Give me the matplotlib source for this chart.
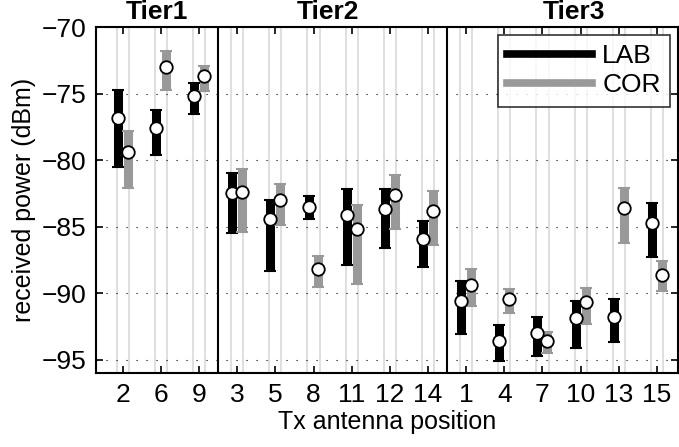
import numpy as np
import matplotlib
matplotlib.use("Agg")
import matplotlib.pyplot as plt

plt.rcParams["font.family"] = ["Liberation Sans", "DejaVu Sans"]

# tx antenna positions, grouped by tier
positions = ["2", "6", "9", "3", "5", "8", "11", "12", "14", "1", "4", "7", "10", "13", "15"]
tiers = ["Tier1", "Tier2", "Tier3"]

# LAB measurement: mean, lower and upper end (dBm)
lab_mean = [-76.8, -77.6, -75.2, -82.5, -84.4, -83.5, -84.1, -83.7, -85.9, -90.6, -93.6, -93.0, -91.9, -91.8, -84.7]
lab_low = [-80.5, -79.6, -76.5, -85.5, -88.3, -84.4, -87.9, -86.6, -88.0, -93.1, -95.1, -94.7, -94.1, -93.7, -87.3]
lab_high = [-74.7, -76.2, -74.2, -81.0, -83.0, -82.7, -82.2, -82.2, -84.6, -89.1, -92.4, -91.8, -90.6, -90.4, -83.2]

# COR measurement
cor_mean = [-79.4, -73.0, -73.7, -82.4, -83.0, -88.2, -85.2, -82.6, -83.8, -89.4, -90.4, -93.6, -90.7, -83.6, -88.6]
cor_low = [-82.1, -74.7, -74.8, -85.4, -84.9, -89.5, -89.3, -85.2, -86.4, -91.0, -91.5, -94.5, -92.3, -86.2, -89.8]
cor_high = [-77.8, -71.8, -72.9, -80.7, -81.8, -87.2, -83.4, -81.1, -82.3, -88.2, -89.7, -92.9, -89.6, -82.1, -87.6]

x = np.arange(1, len(positions) + 1)
lab_mean = np.array(lab_mean)
cor_mean = np.array(cor_mean)

fig = plt.figure(figsize=(6.79, 4.47), dpi=100)
ax = fig.add_axes([0.1414, 0.1655, 0.857, 0.774])

# light gray guide lines through each bar
for xi in x:
    ax.axvline(xi - 0.16, color="#d9d9d9", lw=1.2, zorder=0)
    ax.axvline(xi + 0.16, color="#d9d9d9", lw=1.2, zorder=0)

# tier separators
ax.axvline(3.5, color="black", lw=1.5, zorder=1)
ax.axvline(9.5, color="black", lw=1.5, zorder=1)

lab_err = [lab_mean - np.array(lab_low), np.array(lab_high) - lab_mean]
cor_err = [cor_mean - np.array(cor_low), np.array(cor_high) - cor_mean]

ax.errorbar(x - 0.13, lab_mean, yerr=lab_err, fmt="none", ecolor="black",
            elinewidth=6.5, capsize=4, capthick=1.5, zorder=3)
ax.errorbar(x + 0.13, cor_mean, yerr=cor_err, fmt="none", ecolor="#999999",
            elinewidth=6.5, capsize=4, capthick=1.5, zorder=3)
ax.plot(x - 0.13, lab_mean, "o", ms=9, mfc="white", mec="black", mew=1.3, zorder=4)
ax.plot(x + 0.13, cor_mean, "o", ms=9, mfc="white", mec="black", mew=1.3, zorder=4)

# legend handles
ax.plot([], [], color="black", lw=5.5, label="LAB")
ax.plot([], [], color="#999999", lw=5.5, label="COR")
leg = ax.legend(loc="upper right", fontsize=19, handlelength=3.2, frameon=True,
                fancybox=False, borderaxespad=0.3, handletextpad=0.4,
                labelspacing=0.2, borderpad=0.35)
leg.get_frame().set_edgecolor("black")
leg.get_frame().set_linewidth(1.2)

ax.set_xlim(0.3, 15.55)
ax.set_ylim(-96, -70)
ax.set_xticks(x)
ax.set_xticklabels(positions)
ax.set_yticks([-95, -90, -85, -80, -75, -70])
ax.set_yticklabels(["\u221295", "\u221290", "\u221285", "\u221280", "\u221275", "\u221270"])
ax.tick_params(axis="both", direction="in", length=5, width=1.2, labelsize=19,
               top=True, right=True, pad=7)
ax.yaxis.grid(True, linestyle=(0, (1, 8)), color="black", lw=0.8)
ax.set_axisbelow(True)
for sp in ax.spines.values():
    sp.set_linewidth(1.5)

ax.set_xlabel("Tx antenna position", fontsize=18, labelpad=2)
ax.set_ylabel("received power (dBm)", fontsize=18, labelpad=4)

# tier titles above the axes
for tx, name in zip([1.9, 6.37, 12.83], tiers):
    ax.text(tx, -69.75, name, ha="center", va="bottom", fontsize=19, fontweight="bold")

fig.savefig("out.png", dpi=100)
